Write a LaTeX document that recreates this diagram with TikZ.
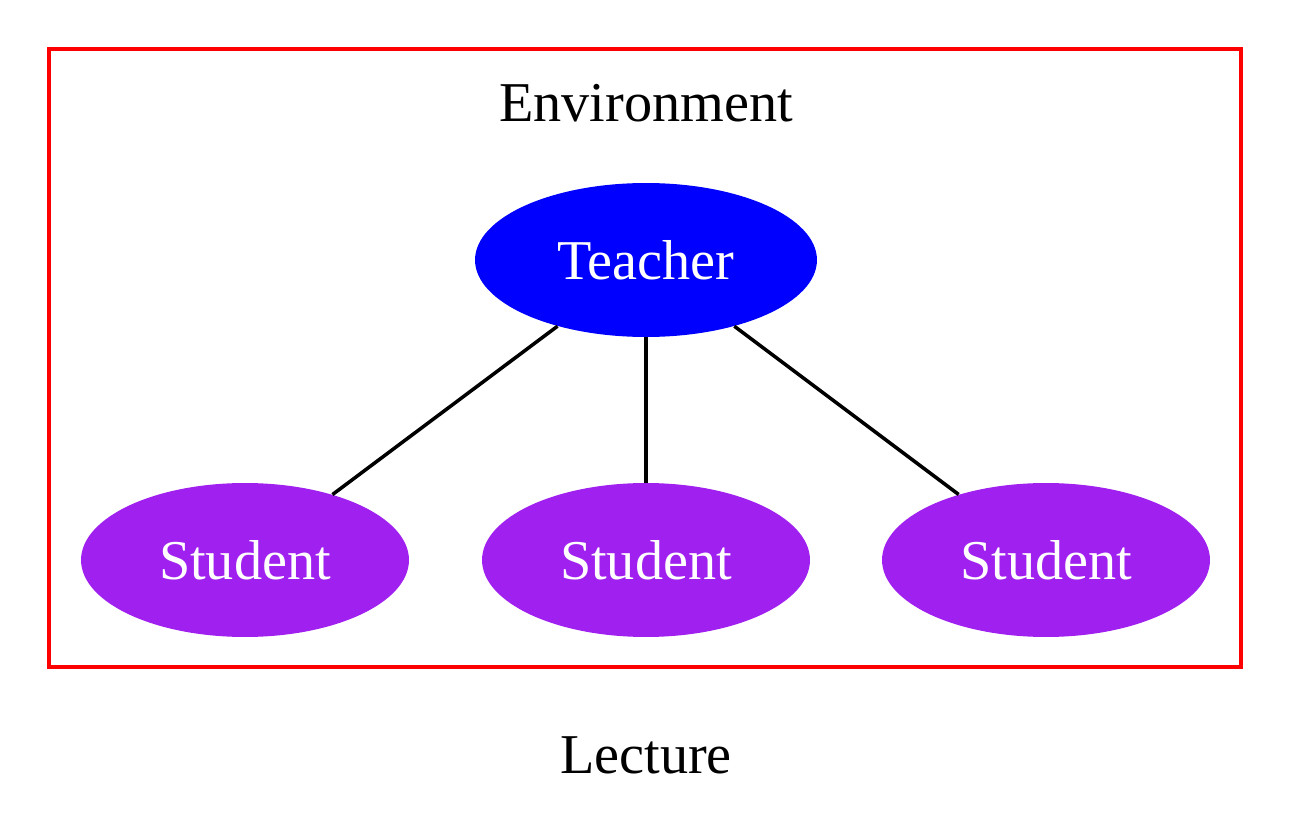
\documentclass[tikz,border=0pt]{standalone}
\usepackage{fontspec}
\setmainfont{Liberation Serif}
\definecolor{gvBlue}{RGB}{0,0,255}
\definecolor{gvPurple}{RGB}{160,32,240}
\definecolor{gvRed}{RGB}{255,0,0}
\usetikzlibrary{shapes.geometric,positioning}
\tikzset{
  bigfont/.style={font=\fontsize{32}{38}\selectfont},
  teacherbox/.style={ellipse, fill=gvBlue, text=white, bigfont,
    minimum width=6.84cm, minimum height=3.08cm, inner sep=0pt},
  studentbox/.style={ellipse, fill=gvPurple, text=white, bigfont,
    minimum width=6.56cm, minimum height=3.08cm, inner sep=0pt},
  link/.style={draw=black, line width=2pt}
}

\begin{document}
\begin{tikzpicture}[x=0.02cm, y=-0.02cm]
    \useasboundingbox (0,0) rectangle (1292,821);
    % Cluster frame
    \draw[gvRed, line width=2pt] (49,49) rectangle (1241,667);
    \node[bigfont] (envlabel) at (646,103) {Environment};
    % Teacher
    \node[teacherbox] (teacher) at (646,260) {Teacher};
    % Students
    \node[studentbox] (stuA) at (245,560) {Student};
    \node[studentbox] (stuB) at (646,560) {Student};
    \node[studentbox] (stuC) at (1046,560) {Student};
    % Edges
    \foreach \s in {stuA,stuB,stuC} {
      \draw[link] (teacher) -- (\s);
    }
    % Graph label
    \node[bigfont] (graphlabel) at (646,755) {Lecture};
\end{tikzpicture}
\end{document}
